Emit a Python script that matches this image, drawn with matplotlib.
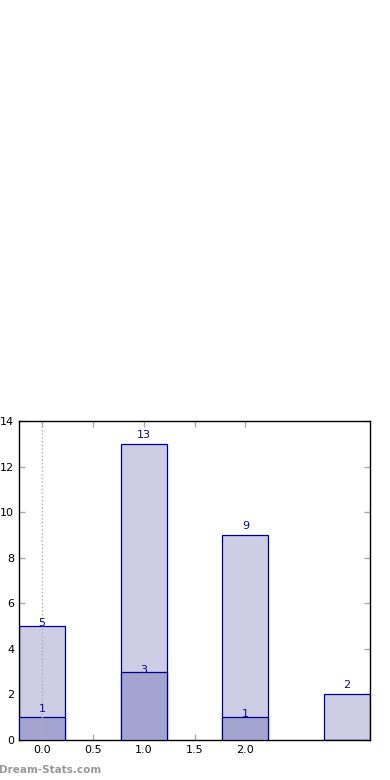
import matplotlib
matplotlib.use("Agg")
import matplotlib.pyplot as plt

categories = [0, 1, 2, 3]
totals = [5, 13, 9, 2]
subset = [1, 3, 1, 0]
xticks = [0.0, 0.5, 1.0, 1.5, 2.0]
yticks = [0, 2, 4, 6, 8, 10, 12, 14]

# per-label vertical offsets (points), style only
total_off = [-1.5, 3, 3, 3]
subset_off = [2, -2.5, -1.5, 0]

fig = plt.figure(figsize=(3.9, 7.8), dpi=100)
ax = fig.add_axes([19/390, 40/780, 351/390, 319/780])

light = "#cdcde5"
dark = "#a4a4d1"
edge = "#000090"
txt = "#0a0a8c"

ax.bar(categories, totals, width=0.45, color=light, edgecolor=edge, linewidth=0.9, zorder=2)
sub_x = [c for c, s in zip(categories, subset) if s > 0]
sub_v = [s for s in subset if s > 0]
ax.bar(sub_x, sub_v, width=0.45, color=dark, edgecolor=edge, linewidth=0.9, zorder=3)

for c, v, o in zip(categories, totals, total_off):
    ax.annotate(str(v), (c, v), xytext=(0, o), textcoords="offset points",
                ha="center", va="bottom", fontsize=8, color=txt, zorder=5)
for c, v, o in zip(categories, subset, subset_off):
    if v > 0:
        ax.annotate(str(v), (c, v), xytext=(0, o), textcoords="offset points",
                    ha="center", va="bottom", fontsize=8, color=txt, zorder=5)

ax.axvline(0, color="#b0b0b0", linestyle=":", linewidth=1.0, zorder=4)

ax.set_xlim(-0.225, 3.225)
ax.set_ylim(0, 14)
ax.set_xticks(xticks)
ax.set_xticklabels([f"{t:.1f}" for t in xticks])
ax.set_yticks(yticks)
ax.tick_params(direction="in", color="#aaaaaa", length=4, width=1,
               labelsize=8, labelcolor="black", top=True, right=True)
for s in ax.spines.values():
    s.set_color("black")
    s.set_linewidth(1.0)

fig.text(-0.003, 10/780, "Dream-Stats.com", fontsize=7.5, fontweight="bold",
         color="#999999", ha="left", va="center")

fig.savefig("out.png", dpi=100)
